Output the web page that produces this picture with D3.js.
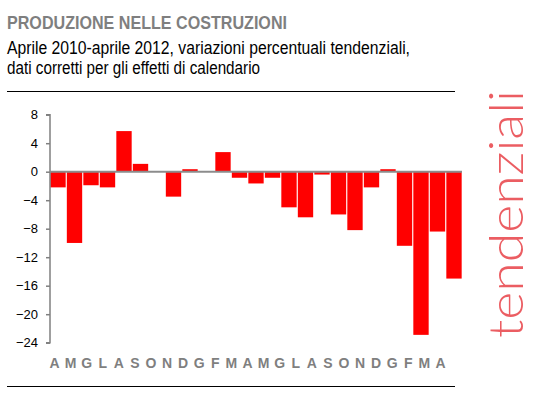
<!DOCTYPE html>
<html>
<head>
<meta charset="utf-8">
<script src="https://cdn.jsdelivr.net/npm/d3@7"></script>
<style>
  body { margin: 0; background: #fff; }
  svg { display: block; }
</style>
</head>
<body>
<div id="chart"></div>
<script>
// dati
var mesi = ["A", "M", "G", "L", "A", "S", "O", "N", "D", "G", "F", "M", "A",
            "M", "G", "L", "A", "S", "O", "N", "D", "G", "F", "M", "A"];
var variazioni = [-2.2, -10.0, -1.9, -2.2, 5.7, 1.1, 0.0, -3.5, 0.35, 0.0, 2.75, -0.85, -1.65,
                  -0.85, -5.0, -6.4, -0.4, -6.0, -8.2, -2.2, 0.35, -10.4, -22.9, -8.4, -15.0];
var yTicks = [8, 4, 0, -4, -8, -12, -16, -20, -24];

var titolo = "PRODUZIONE NELLE COSTRUZIONI";
var sottotitolo = ["Aprile 2010-aprile 2012, variazioni percentuali tendenziali,",
                   "dati corretti per gli effetti di calendario"];

var svgWidth = 540, svgHeight = 412;
var narrow = "'Liberation Sans Narrow', 'Arial Narrow', 'Liberation Sans', Arial, sans-serif";
var sans = "'Liberation Sans', Arial, sans-serif";

var svg = d3.select("#chart").append("svg")
    .attr("width", svgWidth)
    .attr("height", svgHeight);

// Titoli
svg.append("text")
    .attr("x", 7).attr("y", 29)
    .attr("font-family", narrow)
    .attr("font-weight", "bold")
    .attr("font-size", 17.5)
    .attr("fill", "#7f7f7f")
    .attr("textLength", 280)
    .attr("lengthAdjust", "spacingAndGlyphs")
    .text(titolo);

svg.append("text")
    .attr("x", 7).attr("y", 54)
    .attr("font-family", narrow)
    .attr("font-size", 17.5)
    .attr("fill", "#000")
    .attr("textLength", 403)
    .attr("lengthAdjust", "spacingAndGlyphs")
    .text(sottotitolo[0]);

svg.append("text")
    .attr("x", 7).attr("y", 74)
    .attr("font-family", narrow)
    .attr("font-size", 17.5)
    .attr("fill", "#000")
    .attr("textLength", 253)
    .attr("lengthAdjust", "spacingAndGlyphs")
    .text(sottotitolo[1]);

// linee orizzontali
svg.append("path")
    .attr("stroke", "#000")
    .attr("stroke-width", 1)
    .attr("shape-rendering", "crispEdges")
    .attr("d", "M 7 91.5 L 455 91.5");
svg.append("path")
    .attr("stroke", "#000")
    .attr("stroke-width", 1)
    .attr("shape-rendering", "crispEdges")
    .attr("d", "M 7 386.5 L 455 386.5");

// Scale
var x = d3.scaleBand()
    .domain(d3.range(mesi.length))
    .range([50, 462])
    .paddingInner(0.07)
    .paddingOuter(0.02);

var xLab = d3.scalePoint()
    .domain(d3.range(mesi.length))
    .range([54, 440]);

var y = d3.scaleLinear()
    .domain([-24, 8])
    .range([342.7, 114.7]);

// Barre
svg.append("g").selectAll("rect")
    .data(variazioni)
    .enter()
    .append("rect")
    .attr("x", (d, i) => x(i))
    .attr("width", x.bandwidth())
    .attr("y", d => y(Math.max(0, d)))
    .attr("height", d => Math.abs(y(d) - y(0)))
    .attr("fill", "#ff0000");

// Asse y
var yAxis = svg.append("g")
    .attr("transform", "translate(50,0)")
    .call(d3.axisLeft(y).tickValues(yTicks).tickSize(4).tickPadding(8).tickFormat(d3.format("d")));
yAxis.select(".domain").attr("stroke", "#808080").attr("stroke-width", 1.5)
    .attr("d", "M -4 " + y(8) + " H 0 V " + y(-24) + " H -4");
yAxis.selectAll(".tick line").attr("stroke", "#808080").attr("stroke-width", 1.5);
yAxis.selectAll(".tick text")
    .attr("font-family", sans)
    .attr("font-size", 13)
    .attr("fill", "#000");

// linea dello zero
svg.append("path")
    .attr("stroke", "#8c8c8c")
    .attr("stroke-width", 2)
    .attr("d", `M 50 ${y(0)} L 462 ${y(0)}`);

// Asse x (solo etichette)
var xAxis = svg.append("g")
    .attr("transform", "translate(0,358)")
    .call(d3.axisBottom(xLab).tickSize(0).tickPadding(0).tickFormat(i => mesi[i]));
xAxis.select(".domain").remove();
xAxis.selectAll(".tick text")
    .attr("font-family", sans)
    .attr("font-weight", "bold")
    .attr("font-size", 14)
    .attr("fill", "#7f7f7f")
    .attr("dy", "0.71em");

// scritta verticale
svg.append("text")
    .attr("transform", "translate(523,338) rotate(-90)")
    .attr("font-family", "Lato, 'Open Sans', sans-serif")
    .attr("font-weight", 300)
    .attr("font-size", 48)
    .attr("fill", "#e31f26")
    .attr("fill-opacity", 0.72)
    .attr("textLength", 248)
    .attr("lengthAdjust", "spacingAndGlyphs")
    .text("tendenziali");
</script>
</body>
</html>
